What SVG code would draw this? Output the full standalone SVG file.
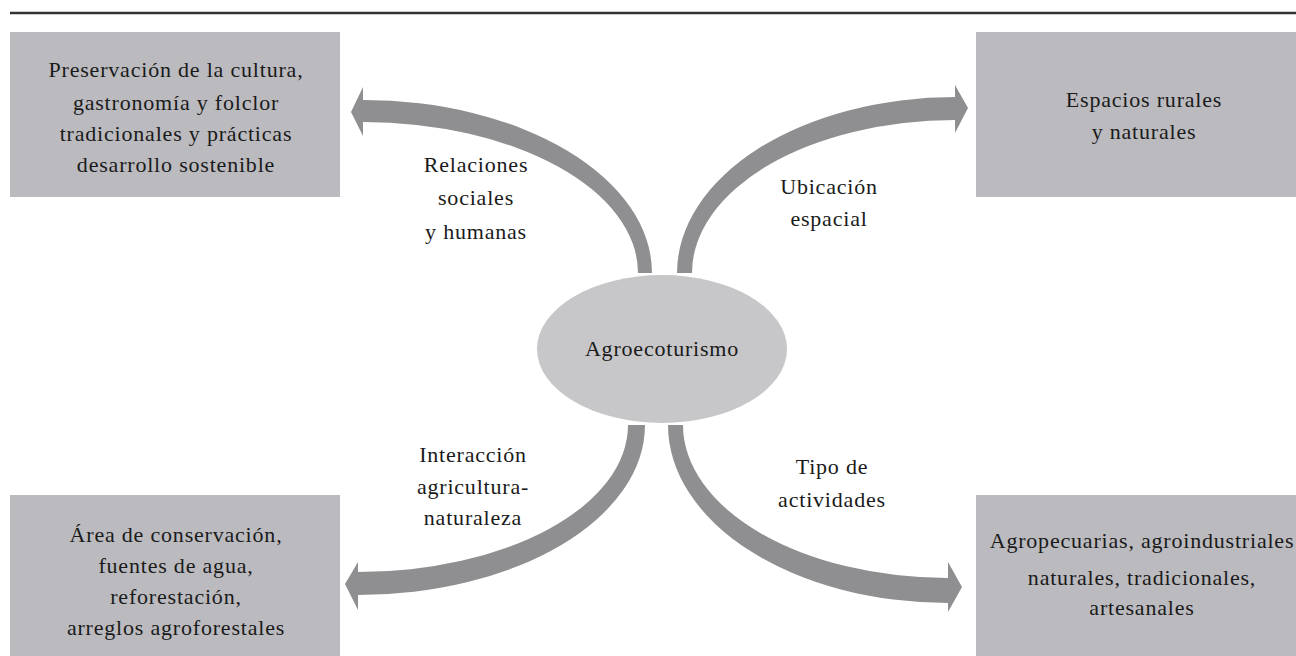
<svg xmlns="http://www.w3.org/2000/svg" width="1296" height="656" viewBox="0 0 1296 656">
<style>
.box{fill:#bbbbbf}
.arrow{fill:#8f8f91}
.t{font-family:"Liberation Serif","Times New Roman",serif;font-size:22px;letter-spacing:0.8px;fill:#1a1a1a;text-anchor:middle}
</style>
<rect width="1296" height="656" fill="#ffffff"/>
<line x1="10" y1="13" x2="1296" y2="13" stroke="#333333" stroke-width="2.5"/>
<g id="connectors">
<path class="arrow" d="M 652 273 A 289 173 0 0 0 363 100 L 363 87 L 351 112 L 363 136 L 363 122 A 275 151 0 0 1 638 273 Z"/>
<path class="arrow" d="M 677 273 A 278 176 0 0 1 955 97 L 955 85 L 968 108 L 955 133 L 955 120 A 263 153 0 0 0 692 273 Z"/>
<path class="arrow" d="M 645 425 A 287 170 0 0 1 358 595 L 358 610 L 345 584 L 358 562 L 358 572 A 270 147 0 0 0 628 425 Z"/>
<path class="arrow" d="M 668 425 A 280 178 0 0 0 948 603 L 948 612 L 962 587 L 948 562 L 948 578 A 265 153 0 0 1 683 425 Z"/>
<g id="labels">
<text class="t" x="476" y="172">Relaciones</text>
<text class="t" x="476" y="205">sociales</text>
<text class="t" x="476" y="239">y humanas</text>
<text class="t" x="829" y="194">Ubicación</text>
<text class="t" x="829" y="226">espacial</text>
<text class="t" x="473" y="462">Interacción</text>
<text class="t" x="473" y="494">agricultura-</text>
<text class="t" x="473" y="525">naturaleza</text>
<text class="t" x="832" y="474">Tipo de</text>
<text class="t" x="832" y="507">actividades</text>
</g>
</g>
<g id="center">
<ellipse cx="662" cy="349" rx="125" ry="74" fill="#c7c7c9"/>
<text class="t" x="662" y="356">Agroecoturismo</text>
</g>
<g id="n-top-left">
<rect class="box" x="10" y="32" width="330" height="165"/>
<text class="t" x="176" y="77">Preservación de la cultura,</text>
<text class="t" x="176" y="110">gastronomía y folclor</text>
<text class="t" x="176" y="141">tradicionales y prácticas</text>
<text class="t" x="176" y="172">desarrollo sostenible</text>
</g>
<g id="n-top-right">
<rect class="box" x="976" y="32" width="320" height="165"/>
<text class="t" x="1144" y="107">Espacios rurales</text>
<text class="t" x="1144" y="139">y naturales</text>
</g>
<g id="n-bottom-left">
<rect class="box" x="10" y="495" width="330" height="161"/>
<text class="t" x="176" y="542">Área de conservación,</text>
<text class="t" x="176" y="573">fuentes de agua,</text>
<text class="t" x="176" y="604">reforestación,</text>
<text class="t" x="176" y="635">arreglos agroforestales</text>
</g>
<g id="n-bottom-right">
<rect class="box" x="976" y="495" width="320" height="161"/>
<text class="t" x="1142" y="548">Agropecuarias, agroindustriales</text>
<text class="t" x="1142" y="585">naturales, tradicionales,</text>
<text class="t" x="1142" y="615">artesanales</text>
</g>
</svg>
